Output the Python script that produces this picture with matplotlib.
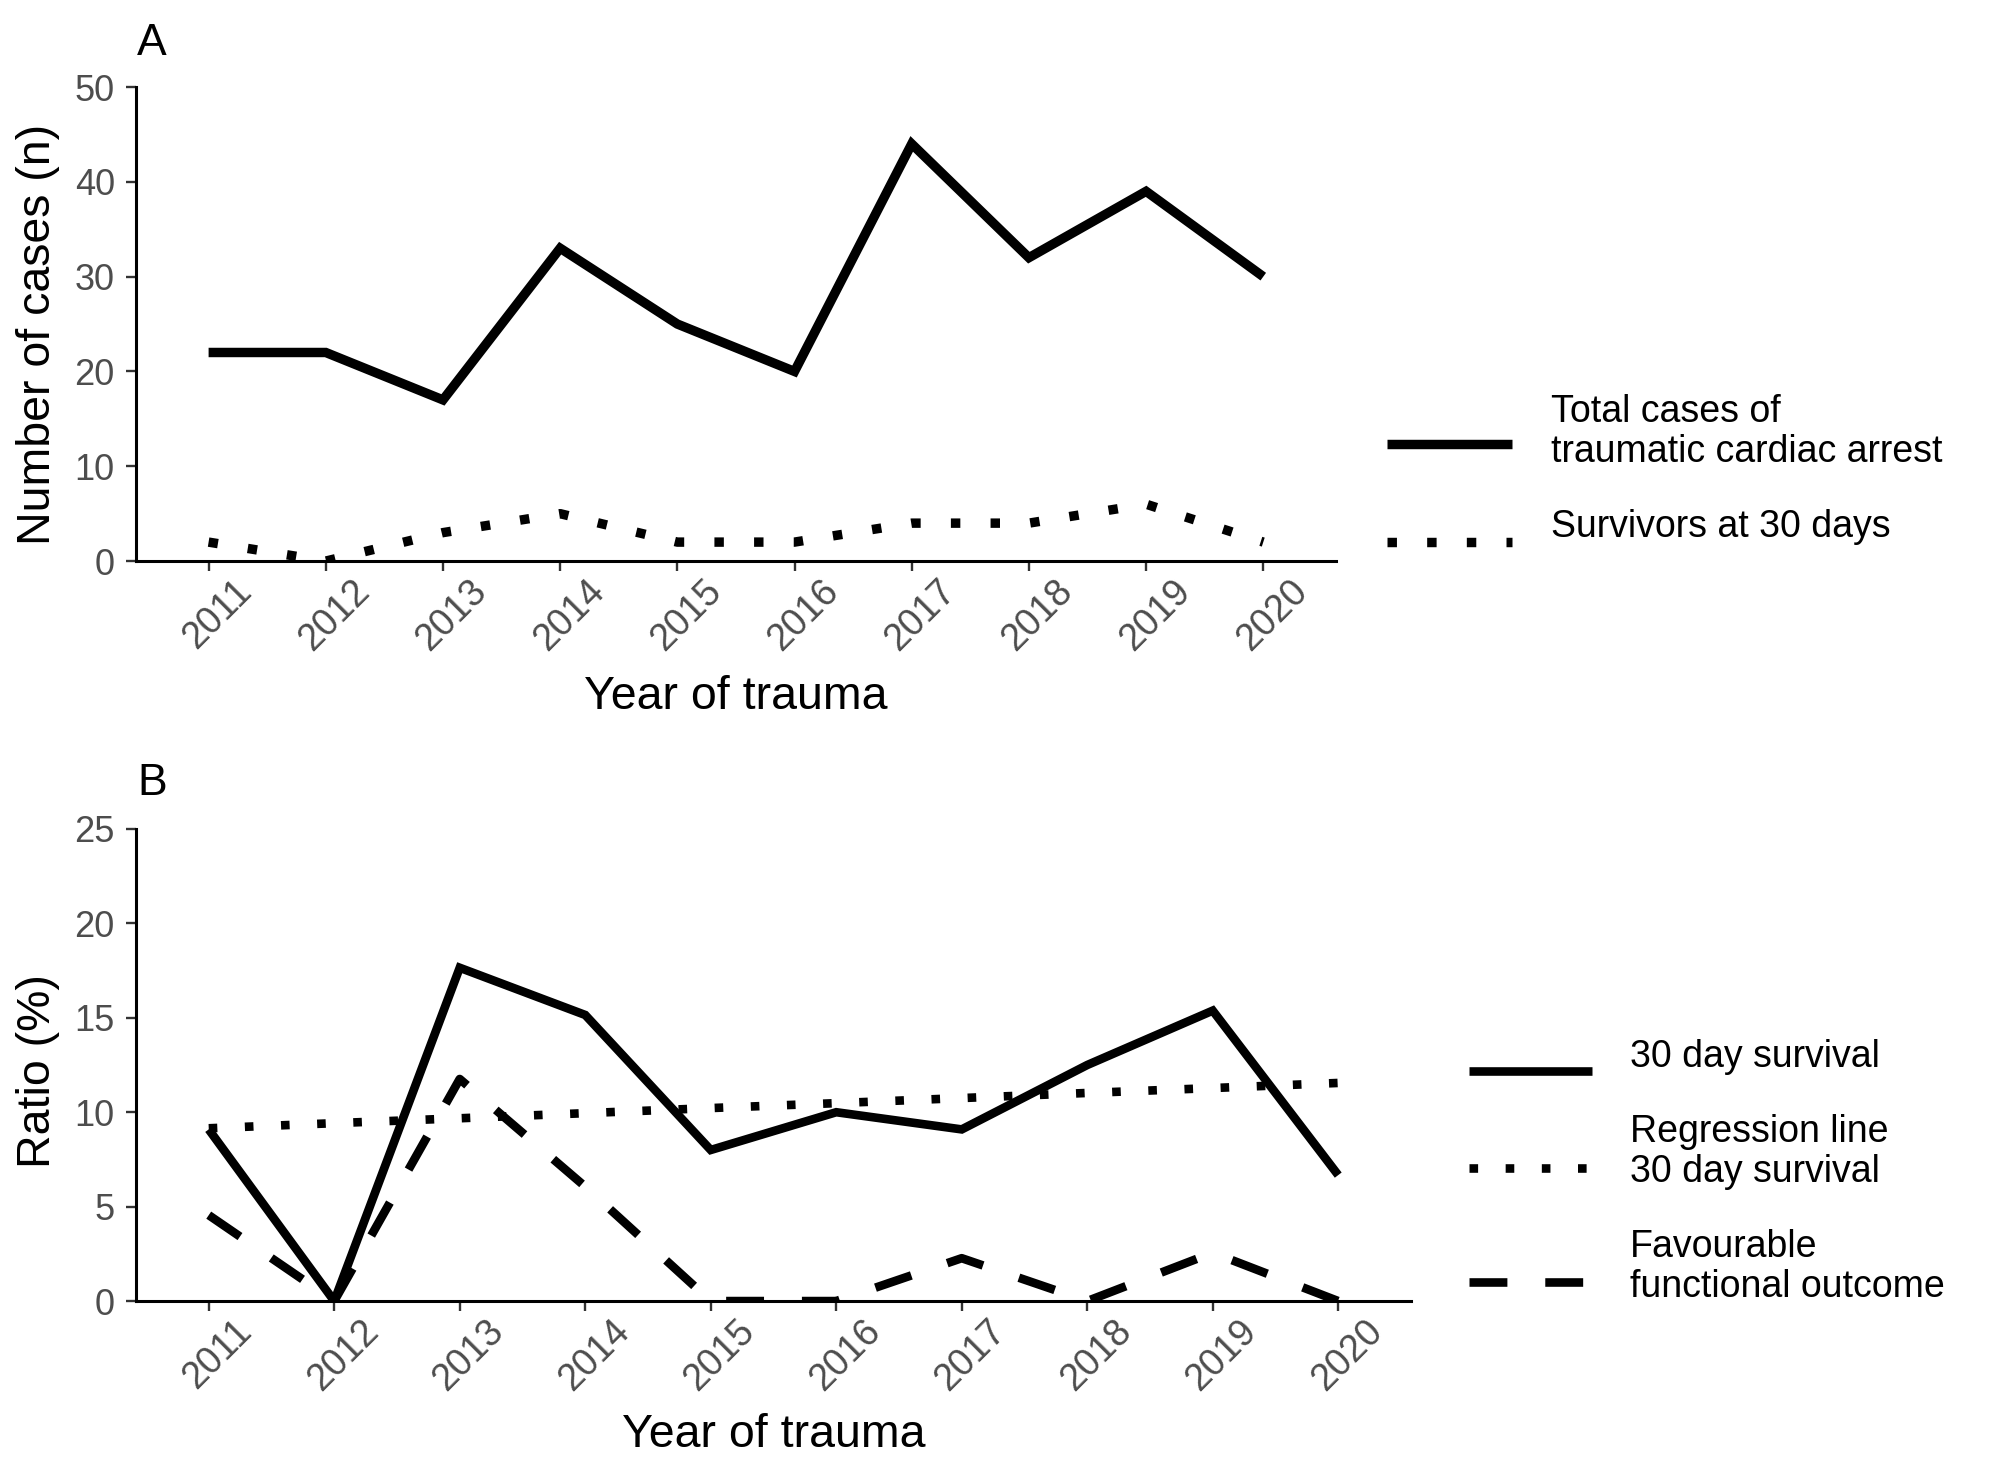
import numpy as np
import matplotlib
matplotlib.use("Agg")
import matplotlib.pyplot as plt
from matplotlib.lines import Line2D
from matplotlib.transforms import ScaledTranslation

plt.rcParams['font.family'] = ['Liberation Sans', 'DejaVu Sans']

# Data
years = [2011, 2012, 2013, 2014, 2015, 2016, 2017, 2018, 2019, 2020]
total_cases = [22, 22, 17, 33, 25, 20, 44, 32, 39, 30]
survivors_30d = [2, 0, 3, 5, 2, 2, 4, 4, 6, 2]
survival_pct = [9.09, 0.0, 17.65, 15.15, 8.0, 10.0, 9.09, 12.5, 15.38, 6.67]
regression_pct = [9.15, 9.42, 9.68, 9.95, 10.22, 10.48, 10.75, 11.02, 11.28, 11.55]
favourable_pct = [4.55, 0.0, 11.76, 6.06, 0.0, 0.0, 2.27, 0.0, 2.56, 0.0]
year_labels = [str(y) for y in years]

labels_A = ["Total cases of\ntraumatic cardiac arrest", "Survivors at 30 days"]
labels_B = ["30 day survival", "Regression line\n30 day survival",
            "Favourable\nfunctional outcome"]

W, H = 2008, 1480
fig = plt.figure(figsize=(W / 100, H / 100), dpi=100)
axA = fig.add_axes([0.0677, 0.6209, 0.5976, 0.3203])
axB = fig.add_axes([0.0677, 0.1209, 0.6350, 0.3190])

dotted = (1, 3.2)
dashed = (4.4, 4.4)


def style_axis(ax, xpad, ylim, yticks, ylabel, ylab_x, ylab_y, xlab_y):
    ax.set_xlim(years[0] - xpad, years[-1] + xpad)
    ax.set_ylim(*ylim)
    ax.set_yticks(yticks)
    ax.set_xticks(years)
    ax.set_xticklabels(year_labels, rotation=45, ha='center', va='top')
    for side in ['top', 'right']:
        ax.spines[side].set_visible(False)
    for side in ['left', 'bottom']:
        ax.spines[side].set_linewidth(2.2)
        ax.spines[side].set_color('black')
    ax.tick_params(axis='both', length=7.2, width=1.7, color='#333333',
                   labelcolor='#4D4D4D')
    ax.tick_params(axis='x', pad=1.5, labelsize=27)
    ax.tick_params(axis='y', pad=8, labelsize=26)
    # nudge rotated year labels to the right (after tick_params)
    shift = ScaledTranslation(6.5 / 72, 0, fig.dpi_scale_trans)
    for lab in ax.get_xticklabels():
        lab.set_transform(lab.get_transform() + shift)
    ax.set_xlabel("Year of trauma", fontsize=33.5)
    ax.set_ylabel(ylabel, fontsize=33.5)
    ax.xaxis.set_label_coords(0.5, xlab_y)
    ax.xaxis.label.set_va('center')
    ax.yaxis.set_label_coords(ylab_x, ylab_y)
    ax.yaxis.label.set_va('center')


def draw_key(x0, x1, y_line, x_text, y_text, label, lw, dashes=None):
    # legend key in pixel coordinates (from top-left)
    kw = dict(color='black', lw=lw, transform=fig.transFigure,
              solid_capstyle='butt', dash_capstyle='butt')
    if dashes is not None:
        kw['dashes'] = dashes
    fig.add_artist(Line2D([x0 / W, x1 / W], [1 - y_line / H, 1 - y_line / H], **kw))
    fig.text(x_text / W, 1 - y_text / H, label, fontsize=27, ha='left',
             va='center', linespacing=1.12)


# Panel A
axA.plot(years, total_cases, color='black', lw=6.8, solid_joinstyle='miter',
         solid_capstyle='butt')
axA.plot(years, survivors_30d, color='black', lw=6.8, dashes=dotted,
         dash_capstyle='butt')
style_axis(axA, 0.62, (0, 50), [0, 10, 20, 30, 40, 50],
           "Number of cases (n)", -0.0817, 0.478, -0.286)

# Panel B
axB.plot(years, survival_pct, color='black', lw=6.2, solid_joinstyle='miter',
         solid_capstyle='butt')
axB.plot(years, regression_pct, color='black', lw=6.2, dashes=dotted,
         dash_capstyle='butt')
axB.plot(years, favourable_pct, color='black', lw=6.2, dashes=dashed,
         dash_capstyle='butt')
style_axis(axB, 0.58, (0, 25), [0, 5, 10, 15, 20, 25],
           "Ratio (%)", -0.0769, 0.488, -0.284)

# Legends (drawn as keys + labels)
draw_key(1387, 1512, 444, 1551, 432, labels_A[0], 6.8)
draw_key(1387, 1512, 542, 1551, 527, labels_A[1], 6.8, dotted)
draw_key(1469, 1592, 1071, 1630, 1057, labels_B[0], 6.2)
draw_key(1469, 1592, 1168, 1630, 1152, labels_B[1], 6.2, dotted)
draw_key(1469, 1592, 1282, 1630, 1267, labels_B[2], 6.2, dashed)

# Panel tags
fig.text(0.0682, 0.9628, "A", fontsize=32, va='baseline', ha='left')
fig.text(0.0682, 0.4628, "B", fontsize=32, va='baseline', ha='left')

fig.savefig("out.png", dpi=100)
